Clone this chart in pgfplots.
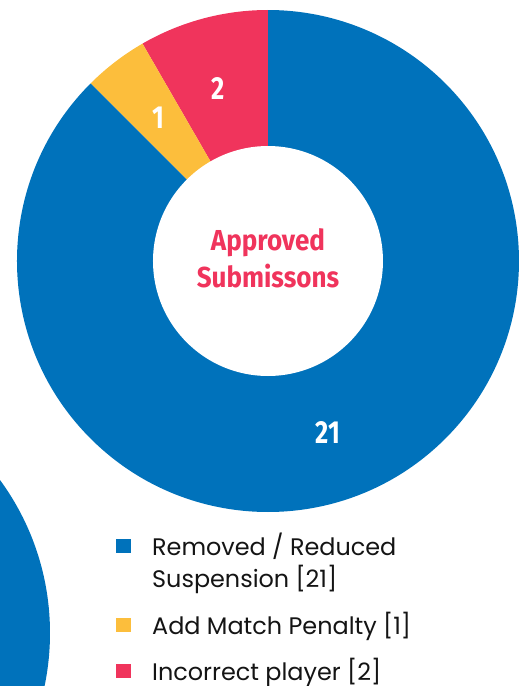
\documentclass[border=0pt]{standalone}
\usepackage{pgfplots}
\pgfplotsset{compat=1.18}
\usepackage{fontspec}
\setmainfont{Poppins}
\newfontfamily\condfont[FakeStretch=0.8]{Fira Sans}
\newfontfamily\titlefont[FakeStretch=0.9]{Fira Sans}
\definecolor{cblue}{RGB}{0,114,187}
\definecolor{cyellow}{RGB}{252,190,60}
\definecolor{cred}{RGB}{240,52,92}
\definecolor{ctext}{RGB}{20,20,20}
\begin{document}
\begin{tikzpicture}
\begin{axis}[x=1bp,y=1bp,xmin=0,xmax=524,ymin=0,ymax=686,hide axis,clip=false,anchor=origin,at={(0,0)}]
\addplot[draw=none] coordinates {(0,0) (524,686)};
% values
\pgfmathsetmacro\vA{21}\pgfmathsetmacro\vB{1}\pgfmathsetmacro\vC{2}
\pgfmathsetmacro\tot{\vA+\vB+\vC}
\pgfmathsetmacro\aC{90+\vC/\tot*360}
\pgfmathsetmacro\aB{\aC+\vB/\tot*360}
\pgfmathsetmacro\aA{\aB+\vA/\tot*360}
% decorative partial circle
\fill[cblue] (axis cs:-209,53) circle[radius=259bp];
% donut
\fill[cred] (axis cs:268,425) -- ++(90:251bp) arc[start angle=90,end angle=\aC,radius=251bp] -- cycle;
\fill[cyellow] (axis cs:268,425) -- ++(\aC:251bp) arc[start angle=\aC,end angle=\aB,radius=251bp] -- cycle;
\fill[cblue] (axis cs:268,425) -- ++(\aB:251bp) arc[start angle=\aB,end angle=\aA,radius=251bp] -- cycle;
\fill[white] (axis cs:268,425) circle[radius=115bp];
% slice labels
\node[white,font=\condfont\bfseries\fontsize{32}{32}\selectfont] at (axis cs:218,598) {2};
\node[white,font=\condfont\bfseries\fontsize{32}{32}\selectfont] at (axis cs:158,568) {1};
\node[white,font=\condfont\bfseries\fontsize{32}{32}\selectfont] at (axis cs:328,254) {21};
% centre text
\node[cred,font=\titlefont\bfseries\fontsize{29}{29}\selectfont] at (axis cs:268,443) {Approved};
\node[cred,font=\titlefont\bfseries\fontsize{29}{29}\selectfont] at (axis cs:268,410) {Submissons};
% legend
\fill[cblue] (axis cs:116,133) rectangle (axis cs:131,147);
\fill[cyellow] (axis cs:116,54) rectangle (axis cs:131,68);
\fill[cred] (axis cs:116,8) rectangle (axis cs:131,22);
\node[ctext,anchor=base west,inner sep=0pt,font=\fontsize{24}{24}\selectfont] at (axis cs:152,131) {Removed / Reduced};
\node[ctext,anchor=base west,inner sep=0pt,font=\fontsize{24}{24}\selectfont] at (axis cs:152,99) {Suspension [21]};
\node[ctext,anchor=base west,inner sep=0pt,font=\fontsize{24}{24}\selectfont] at (axis cs:152,52) {Add Match Penalty [1]};
\node[ctext,anchor=base west,inner sep=0pt,font=\fontsize{24}{24}\selectfont] at (axis cs:152,6) {Incorrect player [2]};
\end{axis}
\pgfresetboundingbox
\useasboundingbox (0,0) rectangle (524bp,686bp);
\end{tikzpicture}
\end{document}
